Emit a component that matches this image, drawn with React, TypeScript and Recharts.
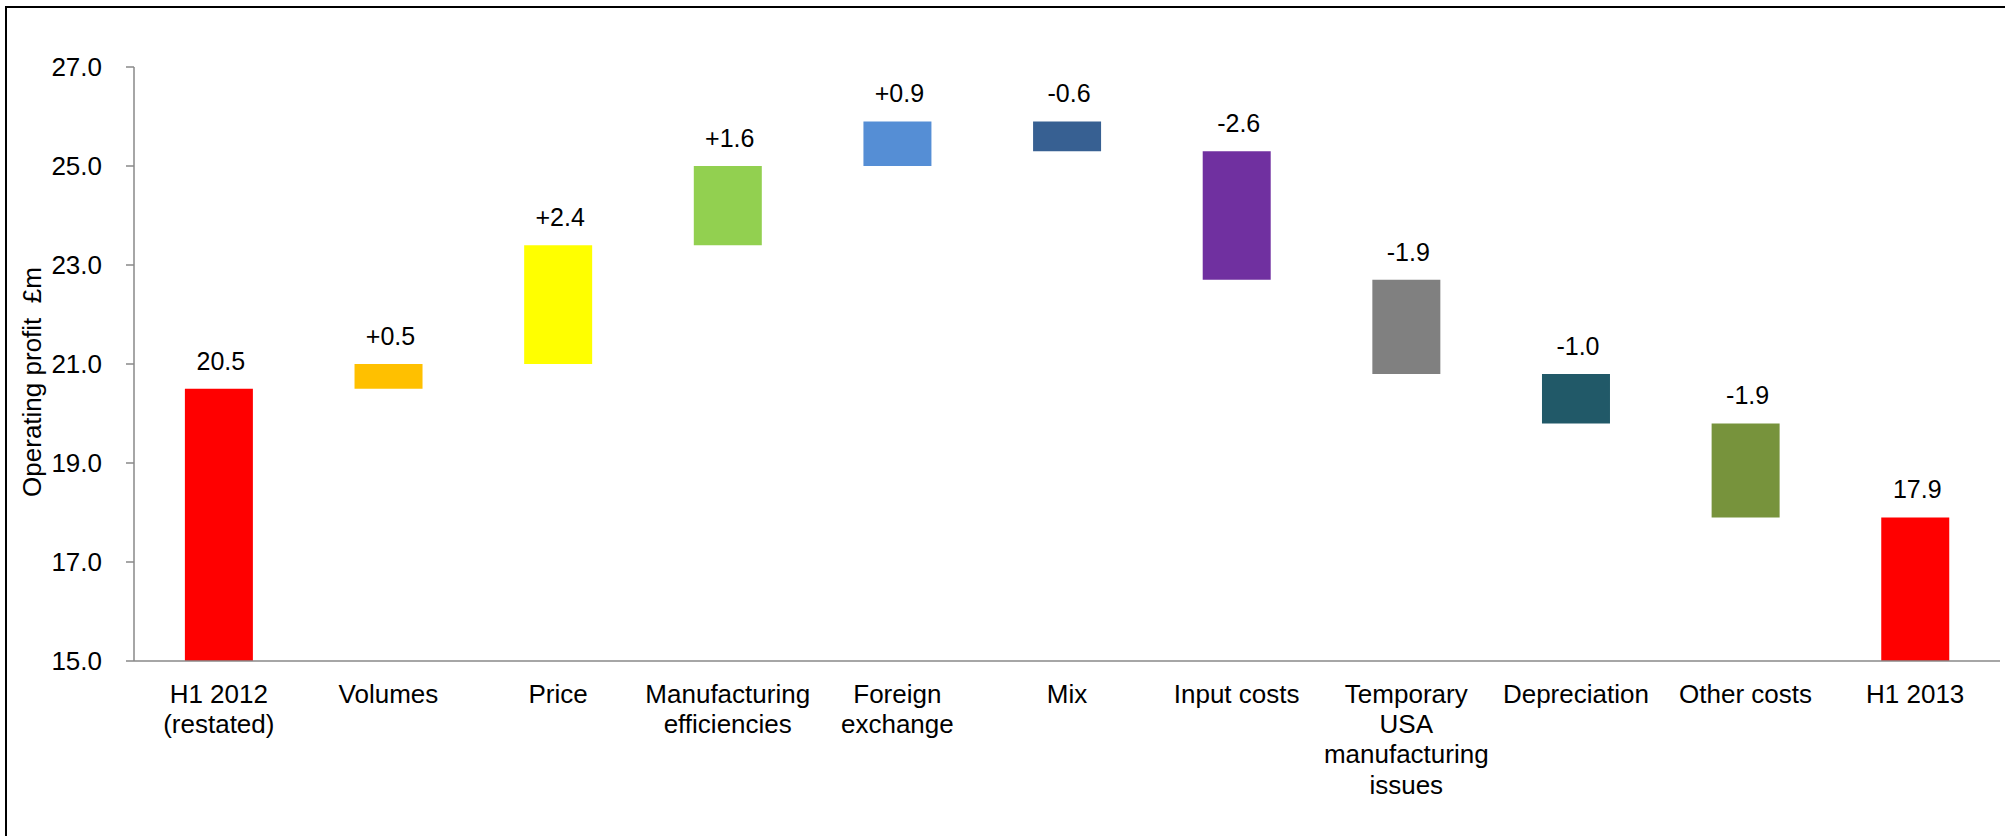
import React from "react"
import { BarChart, Bar, XAxis, YAxis, Cell, LabelList } from "recharts"

// operating profit bridge, H1 2012 -> H1 2013 (£m)
const categories = [
  "H1 2012\n(restated)",
  "Volumes",
  "Price",
  "Manufacturing\nefficiencies",
  "Foreign\nexchange",
  "Mix",
  "Input costs",
  "Temporary\nUSA\nmanufacturing\nissues",
  "Depreciation",
  "Other costs",
  "H1 2013",
]
const steps = [20.5, 0.5, 2.4, 1.6, 0.9, -0.6, -2.6, -1.9, -1.0, -1.9, 17.9]
const isTotal = [true, false, false, false, false, false, false, false, false, false, true]
const barColors = [
  "#FF0000",
  "#FFC000",
  "#FFFF00",
  "#92D050",
  "#558ED5",
  "#376092",
  "#7030A0",
  "#808080",
  "#215968",
  "#77933C",
  "#FF0000",
]
const yTicks = [15, 17, 19, 21, 23, 25, 27]
const Y_MIN = 15
const Y_MAX = 27

const FONT = "'Liberation Sans', Arial, Helvetica, sans-serif"
const AXIS_GREY = "#898989"

// waterfall: each step floats on the running total
const chartData = (() => {
  let running = 0
  return categories.map((name, i) => {
    const v = steps[i]
    let low: number, high: number
    if (isTotal[i]) {
      low = Y_MIN
      high = v
      running = v
    } else {
      const next = running + v
      low = Math.min(running, next)
      high = Math.max(running, next)
      running = next
    }
    const label = isTotal[i] ? v.toFixed(1) : (v > 0 ? "+" : "") + v.toFixed(1)
    return { name, range: [low, high], label }
  })
})()

const edgeTicks = categories.map((_, i) => i).concat(categories.length)

function CategoryTick(props: any) {
  const { x, y, payload } = props
  const lines = String(payload.value).split("\n")
  return (
    <text x={x} y={y + 42} textAnchor="middle" fontSize={26} fontFamily={FONT} fill="#000">
      {lines.map((l, i) => (
        <tspan key={i} x={x} dy={i === 0 ? 0 : 30.2}>
          {l}
        </tspan>
      ))}
    </text>
  )
}

function StepLabel(props: any) {
  const { x, y, width, height, index } = props
  const top = Math.min(y, y + height)
  return (
    <text
      x={x + width / 2 + 2}
      y={top - 19}
      textAnchor="middle"
      fontSize={25}
      fontFamily={FONT}
      fill="#000"
    >
      {chartData[index].label}
    </text>
  )
}

export default function App() {
  return (
    <div style={{ position: "absolute", left: 0, top: 0, width: 2005, height: 836, background: "#fff", overflow: "hidden" }}>
      <div
        style={{
          position: "absolute",
          left: 5,
          top: 6,
          width: 2100,
          height: 900,
          borderLeft: "2px solid #000",
          borderTop: "2px solid #000",
        }}
      />
      <div style={{ position: "absolute", left: 0, top: 0 }}>
        <BarChart
          width={2005}
          height={836}
          data={chartData}
          margin={{ top: 67, right: 5, left: 0, bottom: 0 }}
          barCategoryGap="30%"
        >
          <XAxis
            xAxisId="edge"
            type="number"
            domain={[0, categories.length]}
            ticks={edgeTicks}
            tick={false}
            tickSize={8}
            tickLine={{ stroke: AXIS_GREY, strokeWidth: 1.5 }}
            axisLine={false}
            height={0}
            allowDataOverflow
          />
          <XAxis
            xAxisId="cat"
            dataKey="name"
            interval={0}
            height={175}
            tickSize={0}
            tickMargin={0}
            tickLine={false}
            axisLine={{ stroke: AXIS_GREY, strokeWidth: 1.5 }}
            tick={<CategoryTick />}
          />
          <YAxis
            width={134}
            domain={[Y_MIN, Y_MAX]}
            ticks={yTicks}
            allowDataOverflow
            tickFormatter={(v: number) => v.toFixed(1)}
            tickSize={8}
            tickMargin={24}
            tickLine={{ stroke: AXIS_GREY, strokeWidth: 1.5 }}
            axisLine={{ stroke: AXIS_GREY, strokeWidth: 1.5 }}
            tick={{ fontSize: 26, fontFamily: FONT, fill: "#000" }}
            label={{
              content: () => (
                <text
                  x={41}
                  y={382}
                  transform="rotate(-90 41 382)"
                  textAnchor="middle"
                  fontSize={26}
                  fontFamily={FONT}
                  fill="#000"
                  style={{ whiteSpace: "pre" }}
                >
                  {"Operating profit  £m"}
                </text>
              ),
            }}
          />
          <Bar dataKey="range" xAxisId="cat" isAnimationActive={false}>
            {chartData.map((_, i) => (
              <Cell key={i} fill={barColors[i]} />
            ))}
            <LabelList dataKey="label" content={<StepLabel />} />
          </Bar>
        </BarChart>
      </div>
    </div>
  )
}
